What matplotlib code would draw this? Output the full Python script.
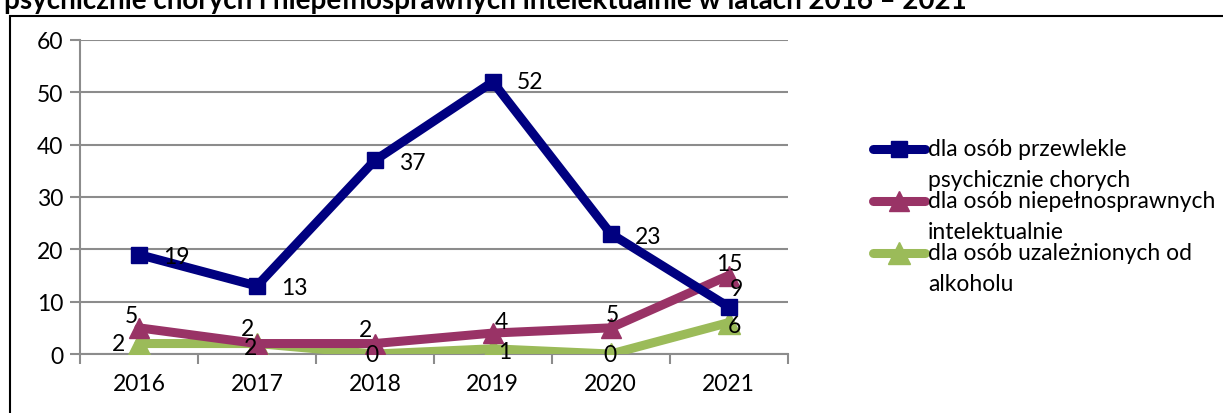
import matplotlib.pyplot as plt
from matplotlib.lines import Line2D
from matplotlib.patches import Rectangle

plt.rcParams['font.family'] = ['Lato', 'DejaVu Sans']

# dane
lata = ['2016', '2017', '2018', '2019', '2020', '2021']
psych = [19, 13, 37, 52, 23, 9]
niepeln = [5, 2, 2, 4, 5, 15]
alkohol = [2, 2, 0, 1, 0, 6]
nazwy = ['dla osób przewlekle\npsychicznie chorych',
         'dla osób niepełnosprawnych\nintelektualnie',
         'dla osób uzależnionych od\nalkoholu']
tytul = 'psychicznie chorych i niepełnosprawnych intelektualnie w latach 2016 – 2021'

kolory = ['#000080', '#993366', '#9BBB59']
markery = ['s', '^', '^']
rozm = [12, 15, 16]
fs = 16.5

fig = plt.figure(figsize=(12.23, 4.14), dpi=100)
ax = fig.add_axes([0.0654, 0.1425, 0.5786, 0.7585])

x = list(range(len(lata)))
serie = [psych, niepeln, alkohol]
# kolejnosc rysowania: zielona pod spodem
for i in [2, 1, 0]:
    ax.plot(x, serie[i], color=kolory[i], lw=6.5, marker=markery[i],
            markersize=rozm[i], solid_capstyle='round', zorder=3 + (2 - i))

# etykiety danych (przesuniecia w pikselach)
off_psych = [(37, -2), (37, -2), (37, -2), (37, 0), (37, -3), (8, 18)]
off_niep = [(-8, 12), (-9, 15), (-9, 14), (9, 12), (2, 13), (1, 12)]
off_alk = [(-20, 0), (-6, -4), (-3, 0), (12, -3), (-1, 0), (6, -3)]
for ser, offs in [(psych, off_psych), (niepeln, off_niep), (alkohol, off_alk)]:
    for xi, v, o in zip(x, ser, offs):
        ax.annotate(str(v), (xi, v), xytext=o, textcoords='offset pixels',
                    ha='center', va='center', fontsize=fs, color='black', zorder=10)

ax.set_xlim(-0.5, 5.5)
ax.set_ylim(0, 60)
ax.set_yticks(range(0, 61, 10))
ax.set_xticks(x)
ax.set_xticklabels(lata)
ax.set_xticks([i - 0.5 for i in range(len(lata) + 1)], minor=True)
ax.tick_params(axis='x', which='major', length=0, labelsize=fs, pad=14)
ax.tick_params(axis='x', which='minor', length=7, width=1.5, color='#8c8c8c')
ax.tick_params(axis='y', length=7, width=1.5, color='#8c8c8c', labelsize=fs, pad=5)
ax.grid(axis='y', color='#8c8c8c', lw=1.5)
ax.set_axisbelow(True)
for s in ['top', 'right']:
    ax.spines[s].set_visible(False)
for s in ['left', 'bottom']:
    ax.spines[s].set_color('#8c8c8c')
    ax.spines[s].set_linewidth(1.5)

# legenda
ys = [150, 202, 254]
for i in range(3):
    yf = 1 - ys[i] / 414
    fig.add_artist(Line2D([873 / 1223, 925 / 1223], [yf, yf], transform=fig.transFigure,
                          color=kolory[i], lw=6.5, solid_capstyle='round'))
    fig.add_artist(Line2D([899 / 1223], [yf], transform=fig.transFigure, color=kolory[i],
                          marker=markery[i], markersize=rozm[i], lw=0))
    fig.text(928 / 1223, yf + 11 / 414, nazwy[i], fontsize=fs, va='top', ha='left',
             linespacing=1.6)

# tytul (uciety u gory, jak w oryginale)
fig.text(0.003, 1 - 1 / 414, tytul, fontsize=20, fontweight='bold', va='center', ha='left')

# ramka
fig.add_artist(Rectangle((10 / 1223, -0.01), 1.1, 1 - 17 / 414 + 0.01, transform=fig.transFigure,
                         fill=False, edgecolor='black', lw=1.5))

fig.savefig('out.png', dpi=100)
